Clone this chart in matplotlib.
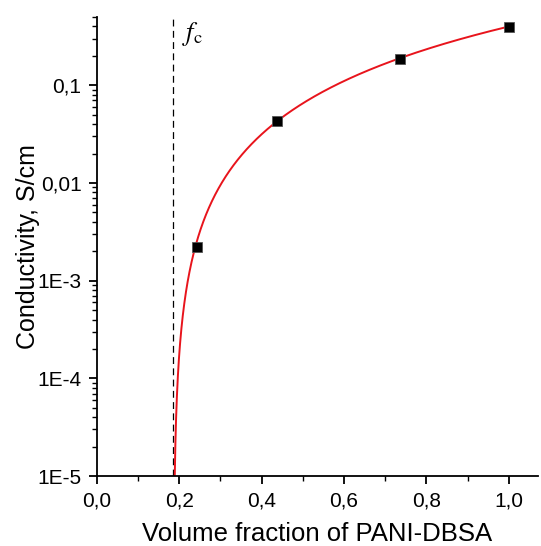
import matplotlib
matplotlib.use('Agg')
import matplotlib.pyplot as plt
import matplotlib.ticker as mticker
import numpy as np

# Measured points
frac = [0.242, 0.437, 0.735, 1.0]
cond = [0.0022, 0.043, 0.185, 0.395]

# Percolation fit: sigma = s0 * (f - fc)^t
fc = 0.186
s0 = 0.59
t_exp = 1.90

ytick_vals = [1e-5, 1e-4, 1e-3, 1e-2, 1e-1]
ytick_labels = ['1E-5', '1E-4', '1E-3', '0,01', '0,1']
xtick_vals = [0.0, 0.2, 0.4, 0.6, 0.8, 1.0]
xtick_labels = ['0,0', '0,2', '0,4', '0,6', '0,8', '1,0']

plt.rcParams['font.family'] = ['Liberation Sans', 'DejaVu Sans']
plt.rcParams['mathtext.fontset'] = 'stix'

fig = plt.figure(figsize=(5.41, 5.46), dpi=100)
ax = fig.add_axes([0.179, 0.128, 0.815, 0.841])

# fit curve
f_fit = np.linspace(fc + 1e-4, 1.0, 2000)
s_fit = s0 * (f_fit - fc) ** t_exp
ax.plot(f_fit, s_fit, color='#e8141c', lw=1.4, zorder=2)

ax.plot(frac, cond, ls='none', marker='s', ms=7, mfc='black',
        mec='#555555', mew=0.6, zorder=3)

ax.axvline(fc, color='black', ls=(0, (5.5, 3.5)), lw=0.9, zorder=1)
ax.text(fc + 0.02, 0.29, r'$f_{\mathrm{c}}$', fontsize=19, color='black')

ax.set_yscale('log')
ax.set_xlim(0, 1.07)
ax.set_ylim(1e-5, 0.5)

ax.set_xticks(xtick_vals)
ax.set_xticklabels(xtick_labels)
ax.xaxis.set_minor_locator(mticker.MultipleLocator(0.1))
ax.set_yticks(ytick_vals)
ax.set_yticklabels(ytick_labels)
ax.yaxis.set_minor_locator(mticker.LogLocator(base=10, subs=np.arange(2, 10)))
ax.yaxis.set_minor_formatter(mticker.NullFormatter())

for side in ['top', 'right']:
  ax.spines[side].set_visible(False)
for side in ['left', 'bottom']:
  ax.spines[side].set_linewidth(1.3)

ax.tick_params(which='major', direction='out', length=6, width=1.3,
               labelsize=15, pad=5)
ax.tick_params(which='minor', direction='out', length=3.5, width=1.0)

ax.set_xlabel('Volume fraction of PANI-DBSA', fontsize=18.5, labelpad=8)
ax.set_ylabel('Conductivity, S/cm', fontsize=18)
ax.yaxis.set_label_coords(-0.13, 0.5)

fig.savefig('out.png', dpi=100)
